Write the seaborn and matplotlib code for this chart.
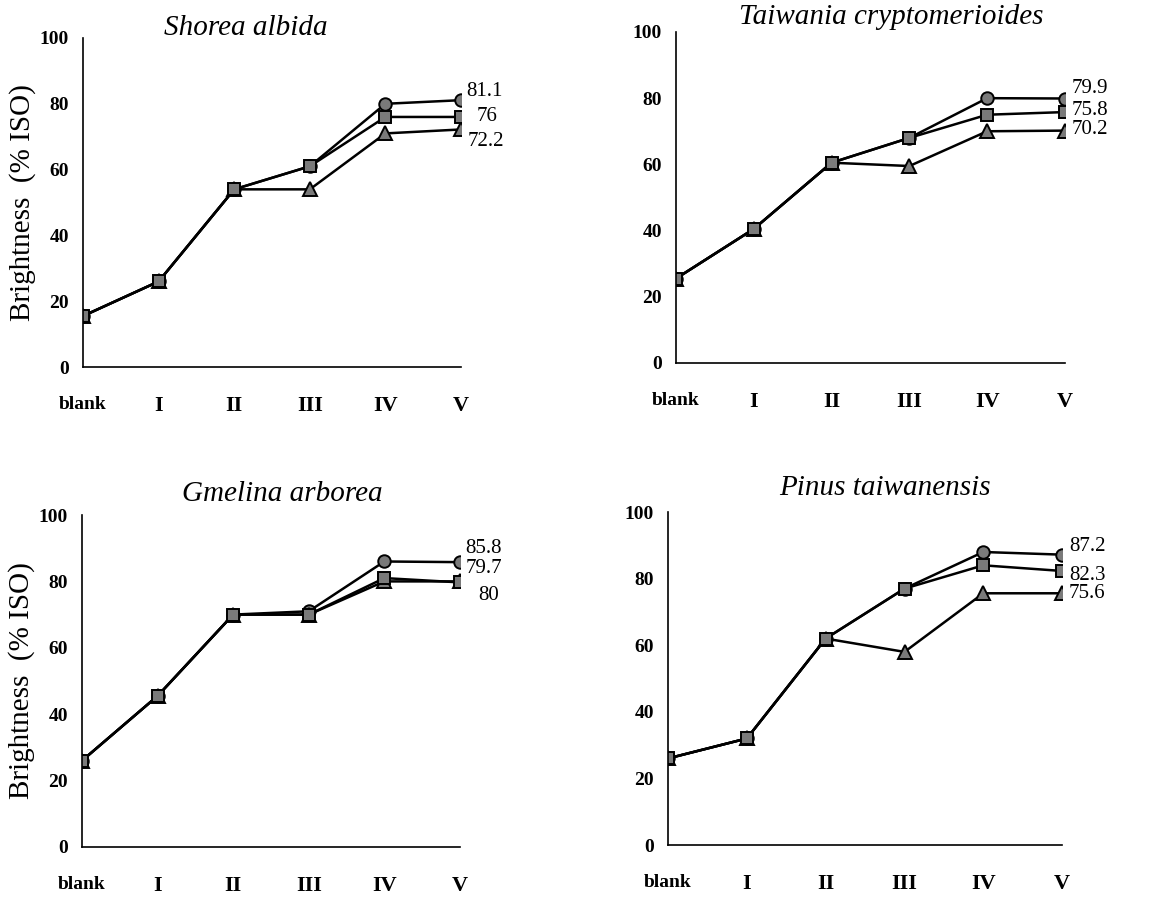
import matplotlib
matplotlib.use("Agg")
import matplotlib.pyplot as plt
import seaborn as sns
import pandas as pd

sns.set_theme(style="white")
plt.rcParams['font.family'] = ['Liberation Serif', 'DejaVu Serif']
plt.rcParams['text.color'] = 'black'
plt.rcParams['axes.labelcolor'] = 'black'

stages = ["blank", "I", "II", "III", "IV", "V"]
panel_titles = ["Shorea albida", "Taiwania cryptomerioides", "Gmelina arborea", "Pinus taiwanensis"]

# values per panel: circle, square, triangle series
shorea_circle = [15.5, 26, 54, 61, 80, 81.1]
shorea_square = [15.5, 26, 54, 61, 76, 76]
shorea_triangle = [15.5, 26, 54, 54, 71, 72.2]

taiwania_circle = [25.5, 40.5, 60.5, 68, 80, 79.9]
taiwania_square = [25.5, 40.5, 60.5, 68, 75, 75.8]
taiwania_triangle = [25.5, 40.5, 60.5, 59.5, 70, 70.2]

gmelina_circle = [26, 45.5, 70, 71, 86, 85.8]
gmelina_square = [26, 45.5, 70, 70, 81, 79.7]
gmelina_triangle = [26, 45.5, 70, 70, 80, 80]

pinus_circle = [26, 32, 62, 77, 88, 87.2]
pinus_square = [26, 32, 62, 77, 84, 82.3]
pinus_triangle = [26, 32, 62, 58, 75.6, 75.6]

panels = [
    (shorea_circle, shorea_square, shorea_triangle),
    (taiwania_circle, taiwania_square, taiwania_triangle),
    (gmelina_circle, gmelina_square, gmelina_triangle),
    (pinus_circle, pinus_square, pinus_triangle),
]

# layout (figure fractions) and label offsets (points) -- styling only
axes_rects = [
    [0.0708, 0.5913, 0.3222, 0.3664],
    [0.5763, 0.5958, 0.3316, 0.3686],
    [0.0699, 0.0568, 0.3222, 0.3697],
    [0.5695, 0.0590, 0.3360, 0.3708],
]
label_offsets = [
    [(4, 6), (11, 0), (5, -9)],
    [(5, 7), (5, 1), (5, 0.5)],
    [(4, 10), (4, 10), (13, -10)],
    [(5, 6), (5, -3), (5, 0)],
]
title_dx = [-0.07, 0.054, 0.03, 0.05]
title_pad = [2, 6, 10, 12]

fig = plt.figure(figsize=(11.73, 8.98), dpi=100)
fill = "#7a7a7a"
markers = {"circle": "o", "square": "s", "triangle": "^"}

for i, (vals, rect) in enumerate(zip(panels, axes_rects)):
    ax = fig.add_axes(rect)
    circle, square, triangle = vals
    df = pd.DataFrame({
        "x": list(range(6)) * 3,
        "y": circle + triangle + square,
        "series": ["circle"] * 6 + ["triangle"] * 6 + ["square"] * 6,
    })
    for name in ["circle", "triangle", "square"]:
        sub = df[df["series"] == name]
        sns.lineplot(data=sub, x="x", y="y", ax=ax, color="black", lw=1.8,
                     marker=markers[name], markersize=9 if name != "triangle" else 10,
                     markerfacecolor=fill, markeredgecolor="black",
                     markeredgewidth=1.4, legend=False, sort=False)
    for v, off in zip([circle[-1], square[-1], triangle[-1]], label_offsets[i]):
        ax.annotate(f"{v:g}", xy=(5, v), xytext=off, textcoords="offset points",
                    ha="left", va="center", fontsize=15, color="black",
                    annotation_clip=False)
    ax.set_xlim(0, 5)
    ax.set_ylim(0, 100)
    ax.set_xticks(range(6))
    ax.set_xticklabels(stages, fontsize=14, fontweight="bold")
    for lab in ax.get_xticklabels()[1:]:
        lab.set_fontsize(16)
    ax.set_yticks(range(0, 101, 20))
    ax.set_yticklabels([str(t) for t in range(0, 101, 20)], fontsize=14, fontweight="bold")
    ax.tick_params(axis="x", direction="in", length=5, width=1, pad=21, colors="black")
    ax.tick_params(axis="y", direction="in", length=4, width=1, pad=10, colors="black")
    for s in ["top", "right"]:
        ax.spines[s].set_visible(False)
    for s in ["left", "bottom"]:
        ax.spines[s].set_color("black")
        ax.spines[s].set_linewidth(1.2)
    ax.set_xlabel("")
    if i in (0, 2):
        ax.set_ylabel("Brightness  (% ISO)", fontsize=21, labelpad=3, color="black")
    else:
        ax.set_ylabel("")
    ax.set_title(panel_titles[i], fontsize=21, style="italic", pad=title_pad[i],
                 x=0.5 + title_dx[i], color="black")

fig.savefig("out.png", dpi=100)
